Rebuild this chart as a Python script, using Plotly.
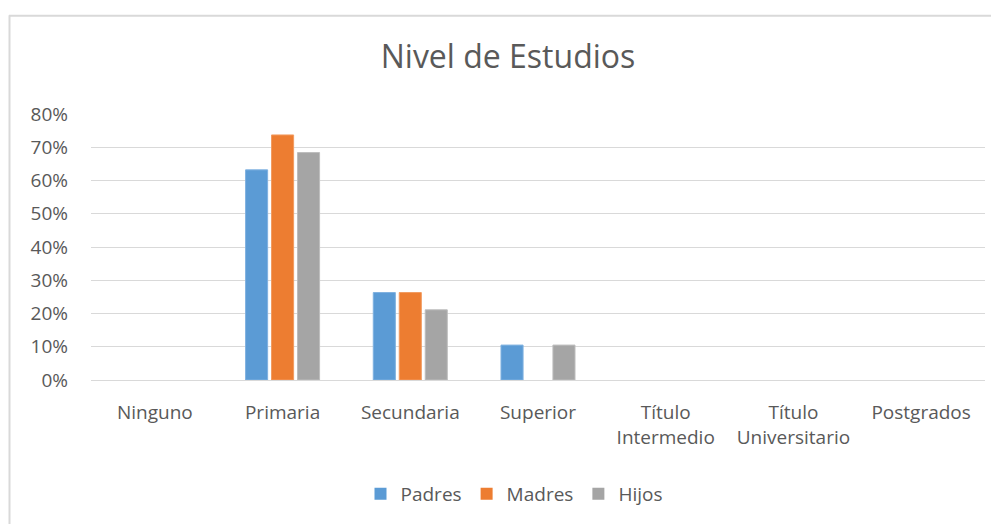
import plotly.graph_objects as go

categories = ["Ninguno", "Primaria", "Secundaria", "Superior",
              "Título<br>Intermedio", "Título<br>Universitario", "Postgrados"]
padres = [0, 0.632, 0.263, 0.105, 0, 0, 0]
madres = [0, 0.737, 0.263, 0, 0, 0, 0]
hijos = [0, 0.684, 0.211, 0.105, 0, 0, 0]
series = [("Padres", padres, "#5B9BD5", "#7FB1E0"),
          ("Madres", madres, "#ED7D31", "#F29B60"),
          ("Hijos", hijos, "#A5A5A5", "#BDBDBD")]

FONT = "Open Sans"
TXT = "#595959"

fig = go.Figure()
for name, vals, col, edge in series:
    fig.add_trace(go.Bar(x=categories, y=vals, name=name,
                         marker=dict(color=col,
                                     line=dict(color=edge, width=[1 if v > 0 else 0 for v in vals]))))

# page is offset by the 8px body margin
W, H = 991, 516
L, R, T, B = 83, 14, 106, 143
pw, ph = W - L - R, H - T - B

def px(x):
    return (x - L) / pw

def py(y):
    return (H - B - y) / ph

fig.update_layout(
    width=W, height=H,
    margin=dict(l=L, r=R, t=T, b=B),
    paper_bgcolor="white", plot_bgcolor="white",
    barmode="group", bargap=0.39, bargroupgap=0.15,
    font=dict(family=FONT, color=TXT, size=19),
    title=dict(text="Nivel de Estudios", x=500 / W, xref="container", xanchor="center",
               y=1 - 49 / H, yref="container", yanchor="middle",
               font=dict(size=32, color=TXT, family=FONT)),
    legend=dict(orientation="h", x=px(506), xanchor="center", y=py(486), yanchor="middle",
                font=dict(size=19, color=TXT), itemwidth=30, traceorder="normal"),
    xaxis=dict(showgrid=False, showline=False, ticks="", ticklabelstandoff=19,
               tickfont=dict(size=19, color=TXT)),
    yaxis=dict(range=[0, 0.8], dtick=0.1, tickformat=".0%", showgrid=True, gridcolor="#D9D9D9",
               gridwidth=1, zeroline=True, zerolinecolor="#D9D9D9", zerolinewidth=1,
               showline=False, ticks="", ticklabelstandoff=22, tickfont=dict(size=19, color=TXT)),
    shapes=[
        dict(type="line", xref="paper", yref="paper", x0=px(1.5), x1=px(1.5), y0=py(W), y1=py(7),
             line=dict(color="#D9D9D9", width=2), layer="below"),
        dict(type="line", xref="paper", yref="paper", x0=px(1), x1=px(W + 5), y0=py(7.5), y1=py(7.5),
             line=dict(color="#D9D9D9", width=2), layer="below"),
    ],
)

fig.write_html("out.html")
